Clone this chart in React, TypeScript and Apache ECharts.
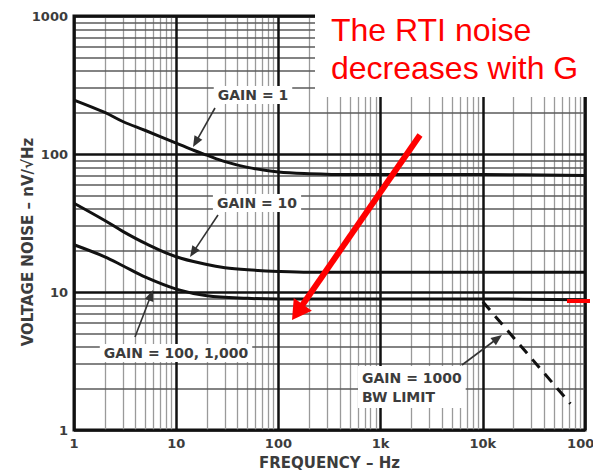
import React, { useEffect, useRef } from "react";
import * as echarts from "echarts";

// ---- data ----
const xTickValues = [1, 10, 100, 1000, 10000, 100000];
const xTickLabels = ["1", "10", "100", "1k", "10k", "100k"];
const yTickValues = [1, 10, 100, 1000];
const yTickLabels = ["1", "10", "100", "1000"];

const freqGain1 = [1, 2, 3, 5, 10, 15, 20, 30, 50, 100, 200, 500, 1000, 10000, 100000];
const noiseGain1 = [246, 200, 172, 148, 120, 106, 98, 88, 80, 74, 72, 71, 71, 71, 70];

const freqGain10 = [1, 2, 3, 5, 10, 20, 30, 50, 100, 200, 1000, 10000, 100000];
const noiseGain10 = [44, 33, 27.5, 22.5, 18, 15.8, 15, 14.5, 14.1, 13.9, 13.9, 13.9, 13.9];

const freqGain100 = [1, 2, 3, 5, 10, 20, 50, 100, 1000, 10000, 100000];
const noiseGain100 = [22, 18, 15.5, 12.8, 10.5, 9.4, 9.0, 8.9, 8.9, 8.9, 8.8];

const freqBwLimit = [10000, 72000];
const noiseBwLimit = [8.5, 1.55];

const minorMultipliers = [2, 3, 4, 5, 6, 7, 8, 9];

const zip = (xs: number[], ys: number[]) => xs.map((x, i) => [x, ys[i]]);

function arrow(
  x1: number, y1: number, x2: number, y2: number,
  color: string, width: number, headLen: number, headHalf: number
) {
  const dx = x2 - x1, dy = y2 - y1;
  const L = Math.hypot(dx, dy);
  const ux = dx / L, uy = dy / L;
  const px = -uy, py = ux;
  const bx = x2 - ux * headLen, by = y2 - uy * headLen;
  return [
    { type: "line", z: 100, shape: { x1, y1, x2: bx + ux, y2: by + uy }, style: { stroke: color, lineWidth: width } },
    {
      type: "polygon", z: 100,
      shape: { points: [[x2, y2], [bx + px * headHalf, by + py * headHalf], [bx - px * headHalf, by - py * headHalf]] },
      style: { fill: color },
    },
  ];
}

const GRAY_TEXT = "#3c3c3c";
const annoFont = 'bold 14px "DejaVu Sans"';

export default function App() {
  const ref = useRef<HTMLDivElement>(null);
  useEffect(() => {
    if (!ref.current) return;
    const chart = echarts.init(ref.current, undefined, { renderer: "svg" });

    const minorX: number[] = [];
    for (let d = 0; d < 5; d++) for (const m of minorMultipliers) minorX.push(m * Math.pow(10, d));
    const minorY: number[] = [];
    for (let d = 0; d < 3; d++) for (const m of minorMultipliers) minorY.push(m * Math.pow(10, d));

    const gridLineSeries = (data: any[], color: string, width: number, z: number) => ({
      type: "line",
      data: [],
      silent: true,
      z,
      markLine: {
        silent: true,
        animation: false,
        symbol: ["none", "none"],
        label: { show: false },
        emphasis: { disabled: true },
        lineStyle: { color, width, type: "solid" },
        data,
      },
    });

    const curve = (xs: number[], ys: number[], name: string) => ({
      type: "line",
      name,
      data: zip(xs, ys),
      showSymbol: false,
      symbol: "none",
      smooth: 0.35,
      z: 5,
      lineStyle: { color: "#111", width: 3 },
      silent: true,
    });

    const option: any = {
      animation: false,
      grid: {
        left: 74, top: 16, right: 8, bottom: 45,
        outerBoundsMode: "none",
        containLabel: false,
        show: true, borderColor: "#111", borderWidth: 3, backgroundColor: "#fff",
      },
      xAxis: {
        type: "log", logBase: 10, min: 1, max: 100000,
        name: "FREQUENCY – Hz", nameLocation: "middle", nameGap: 25,
        nameTextStyle: { fontFamily: "DejaVu Sans", fontWeight: "bold", fontSize: 15, color: GRAY_TEXT },
        axisLine: { show: false }, axisTick: { show: false }, splitLine: { show: false },
        axisLabel: {
          margin: 7, fontFamily: "DejaVu Sans", fontWeight: "bold", fontSize: 13, color: GRAY_TEXT,
          formatter: (v: number) => {
            const i = xTickValues.findIndex((t) => Math.abs(t - v) / t < 1e-6);
            return i >= 0 ? xTickLabels[i] : "";
          },
        },
      },
      yAxis: {
        type: "log", logBase: 10, min: 1, max: 1000,
        axisLine: { show: false }, axisTick: { show: false }, splitLine: { show: false },
        axisLabel: {
          margin: 6, fontFamily: "DejaVu Sans", fontWeight: "bold", fontSize: 13, color: GRAY_TEXT,
          formatter: (v: number) => {
            const i = yTickValues.findIndex((t) => Math.abs(t - v) / t < 1e-6);
            return i >= 0 ? yTickLabels[i] : "";
          },
        },
      },
      series: [
        gridLineSeries(minorX.map((v) => ({ xAxis: v })), "#9a9a9a", 1.3, 1),
        gridLineSeries(minorY.map((v) => ({ yAxis: v })), "#5a5a5a", 1.6, 2),
        gridLineSeries(xTickValues.map((v) => ({ xAxis: v })), "#111", 2.5, 3),
        gridLineSeries(yTickValues.map((v) => ({ yAxis: v })), "#111", 2.5, 3),
        curve(freqGain1, noiseGain1, "GAIN = 1"),
        curve(freqGain10, noiseGain10, "GAIN = 10"),
        curve(freqGain100, noiseGain100, "GAIN = 100, 1,000"),
        {
          type: "line", name: "GAIN = 1000 BW LIMIT",
          data: zip(freqBwLimit, noiseBwLimit),
          showSymbol: false, symbol: "none", z: 5, silent: true,
          lineStyle: { color: "#111", width: 3, type: [11, 8] },
        },
      ],
      graphic: [
        // white box behind the red note
        { type: "rect", z: 90, shape: { x: 315, y: 0, width: 280, height: 97 }, style: { fill: "#fff" } },
        { type: "text", z: 101, x: 331, y: 30, style: { text: "The RTI noise", font: '32px "Liberation Sans"', fill: "#ff0000", textAlign: "left", textVerticalAlign: "middle" } },
        { type: "text", z: 101, x: 331, y: 68, style: { text: "decreases with G", font: '32px "Liberation Sans"', fill: "#ff0000", textAlign: "left", textVerticalAlign: "middle" } },
        ...arrow(420, 135, 292, 320, "#ff0000", 6, 19, 11),
        { type: "line", z: 100, shape: { x1: 567, y1: 301, x2: 590, y2: 301 }, style: { stroke: "#ff0000", lineWidth: 4 } },
        // y axis title
        {
          type: "text", z: 100, x: 28, y: 242, rotation: Math.PI / 2,
          style: { text: "VOLTAGE NOISE – nV/√Hz", font: 'bold 15px "DejaVu Sans"', fill: GRAY_TEXT, textAlign: "center", textVerticalAlign: "middle" },
        },
        // annotations
        { type: "text", z: 100, x: 253, y: 95, style: { text: "GAIN = 1", font: annoFont, fill: GRAY_TEXT, textAlign: "center", textVerticalAlign: "middle", backgroundColor: "#fff", padding: [2, 4] } },
        ...arrow(215, 108, 193, 147, "#333", 1.6, 11, 4.5),
        { type: "text", z: 100, x: 257, y: 203, style: { text: "GAIN = 10", font: annoFont, fill: GRAY_TEXT, textAlign: "center", textVerticalAlign: "middle", backgroundColor: "#fff", padding: [2, 4] } },
        ...arrow(218, 215, 190, 257, "#333", 1.6, 11, 4.5),
        { type: "text", z: 100, x: 176, y: 353, style: { text: "GAIN = 100, 1,000", font: annoFont, fill: GRAY_TEXT, textAlign: "center", textVerticalAlign: "middle", backgroundColor: "#fff", padding: [2, 4] } },
        ...arrow(135, 337, 153, 290, "#333", 1.6, 11, 4.5),
        { type: "text", z: 100, x: 358, y: 387, style: { text: "GAIN = 1000\nBW LIMIT", font: annoFont, lineHeight: 19, fill: GRAY_TEXT, textAlign: "left", textVerticalAlign: "middle", backgroundColor: "#fff", padding: [2, 4] } },
        ...arrow(462, 365, 502, 335, "#333", 1.6, 11, 4.5),
      ],
    };
    chart.setOption(option);
    return () => chart.dispose();
  }, []);
  return (
    <div
      ref={ref}
      style={{ position: "fixed", left: 0, top: 0, width: 593, height: 475, background: "#fff" }}
    />
  );
}
